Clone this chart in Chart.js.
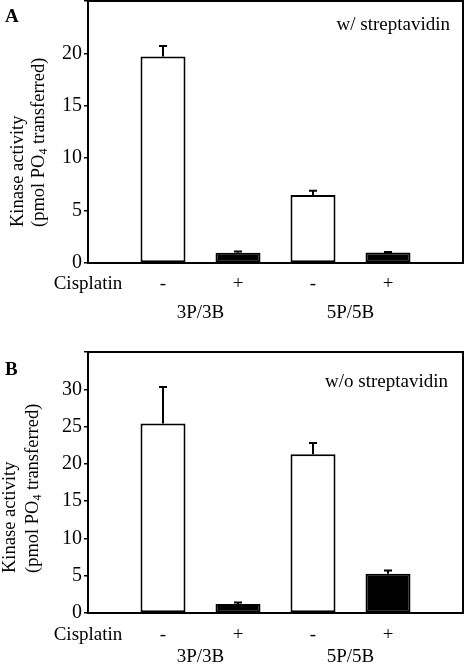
<!DOCTYPE html>
<html>
<head>
<meta charset="utf-8">
<script src="https://cdn.jsdelivr.net/npm/chart.js@4.4.1/dist/chart.umd.min.js"></script>
<style>
  html, body { margin: 0; padding: 0; background: #fff; }
  #wrapA { position: absolute; left: 0; top: 0; width: 465px; height: 330px; }
  #wrapB { position: absolute; left: 0; top: 330px; width: 465px; height: 335px; }
</style>
</head>
<body>
<div id="wrapA"><canvas id="chartA"></canvas></div>
<div id="wrapB"><canvas id="chartB"></canvas></div>
<script>
// categories (first slot carries the row label, last slot is empty)
const cisplatin = ['Cisplatin', '-', '+', '-', '+', ''];
const groups = ['3P/3B', '5P/5B'];

// panel A: with streptavidin
const activityA = [null, 19.7, 0.98, 6.5, 1.0, null];
const errorA = [null, 1.0, 0.12, 0.4, 0.06, null];

// panel B: without streptavidin
const activityB = [null, 25.4, 1.2, 21.3, 5.25, null];
const errorB = [null, 4.9, 0.2, 1.5, 0.45, null];

const barFill = [null, '#ffffff', '#000000', '#ffffff', '#000000', null];

const serif = "'Liberation Serif', 'Times New Roman', serif";
Chart.defaults.font.family = serif;
Chart.defaults.color = '#000';

const panelDecor = {
  id: 'panelDecor',
  afterDatasetsDraw(chart, args, o) {
    const ctx = chart.ctx;
    const area = chart.chartArea;
    const xs = chart.scales.x, ys = chart.scales.y;
    const values = chart.data.datasets[0].data;
    const meta = chart.getDatasetMeta(0);
    ctx.save();
    ctx.strokeStyle = '#000';
    ctx.fillStyle = '#000';
    ctx.lineWidth = 2;

    // error bars (upper only)
    meta.data.forEach((bar, i) => {
      const v = values[i], e = o.errors[i];
      if (v == null || e == null) return;
      const top = ys.getPixelForValue(v + e);
      ctx.beginPath();
      ctx.moveTo(bar.x, bar.y);
      ctx.lineTo(bar.x, top);
      ctx.moveTo(bar.x - 4, top);
      ctx.lineTo(bar.x + 4, top);
      ctx.stroke();
    });

    // frame
    ctx.strokeRect(area.left, area.top, area.right - area.left, area.bottom - area.top);

    // panel letter
    ctx.font = 'bold 19px ' + serif;
    ctx.textAlign = 'left';
    ctx.textBaseline = 'alphabetic';
    ctx.fillText(o.letter, 5, o.letterY);

    // condition note
    ctx.font = '19px ' + serif;
    ctx.textAlign = 'right';
    ctx.fillText(o.note, o.noteX, area.top + o.noteDy);

    // group labels
    ctx.textAlign = 'center';
    ctx.textBaseline = 'middle';
    groups.forEach((g, k) => {
      const cx = (xs.getPixelForValue(1 + 2 * k) + xs.getPixelForValue(2 + 2 * k)) / 2;
      ctx.fillText(g, cx, o.groupY);
    });

    // y axis title, two lines, with PO4 subscript
    ctx.save();
    ctx.translate(o.titleX[0], o.titleY);
    ctx.rotate(-Math.PI / 2);
    ctx.font = '18.5px ' + serif;
    ctx.textAlign = 'left';
    ctx.textBaseline = 'middle';
    ctx.fillText('Kinase activity', 0, 0);
    const dy = o.titleX[1] - o.titleX[0];
    let px = 0;
    const parts = [['(pmol PO', 0, 18.5], ['4', 5, 12], [' transferred)', 0, 18.5]];
    parts.forEach(([t, off, size]) => {
      ctx.font = size + 'px ' + serif;
      ctx.fillText(t, px, dy + off);
      px += ctx.measureText(t).width;
    });
    ctx.restore();

    ctx.restore();
  }
};

function makePanel(id, values, errors, cfg) {
  return new Chart(document.getElementById(id), {
    type: 'bar',
    data: {
      labels: cisplatin,
      datasets: [{
        data: values,
        backgroundColor: barFill,
        borderColor: '#000',
        borderWidth: 2,
        borderSkipped: false,
        categoryPercentage: 0.8,
        barPercentage: 0.75
      }]
    },
    options: {
      responsive: true,
      maintainAspectRatio: false,
      animation: false,
      layout: { padding: { top: cfg.padTop, right: 2, left: 0, bottom: 0 } },
      plugins: {
        legend: { display: false },
        tooltip: { enabled: false },
        panelDecor: cfg
      },
      scales: {
        x: {
          offset: false,
          grid: { display: false, drawTicks: false },
          border: { display: true, color: '#000', width: 2 },
          ticks: {
            autoSkip: false,
            maxRotation: 0,
            padding: cfg.xPad,
            font: { size: 19 }
          },
          afterFit: (s) => { s.height = cfg.xHeight; s.paddingLeft = 0; s.paddingRight = 0; }
        },
        y: {
          min: 0,
          max: cfg.yMax,
          grid: { drawOnChartArea: false, drawTicks: true, tickLength: 4, color: '#000', lineWidth: 1.5 },
          border: { display: true, color: '#000', width: 2 },
          ticks: {
            stepSize: 5,
            padding: 2,
            font: { size: 20 },
            callback: (v) => (v === cfg.yMax ? '' : v)
          },
          afterFit: (s) => { s.width = 88; s.paddingTop = 0; s.paddingBottom = 0; }
        }
      }
    },
    plugins: [panelDecor]
  });
}

makePanel('chartA', activityA, errorA, {
  errors: errorA, yMax: 25, padTop: 1, xHeight: 67, xPad: 10,
  letter: 'A', letterY: 22, note: 'w/ streptavidin', noteX: 450, noteDy: 29,
  groupY: 313, titleX: [18, 39], titleY: 227
});

makePanel('chartB', activityB, errorB, {
  errors: errorB, yMax: 35, padTop: 22, xHeight: 52, xPad: 11,
  letter: 'B', letterY: 45, note: 'w/o streptavidin', noteX: 448, noteDy: 35,
  groupY: 327, titleX: [10, 33], titleY: 243
});
</script>
</body>
</html>
